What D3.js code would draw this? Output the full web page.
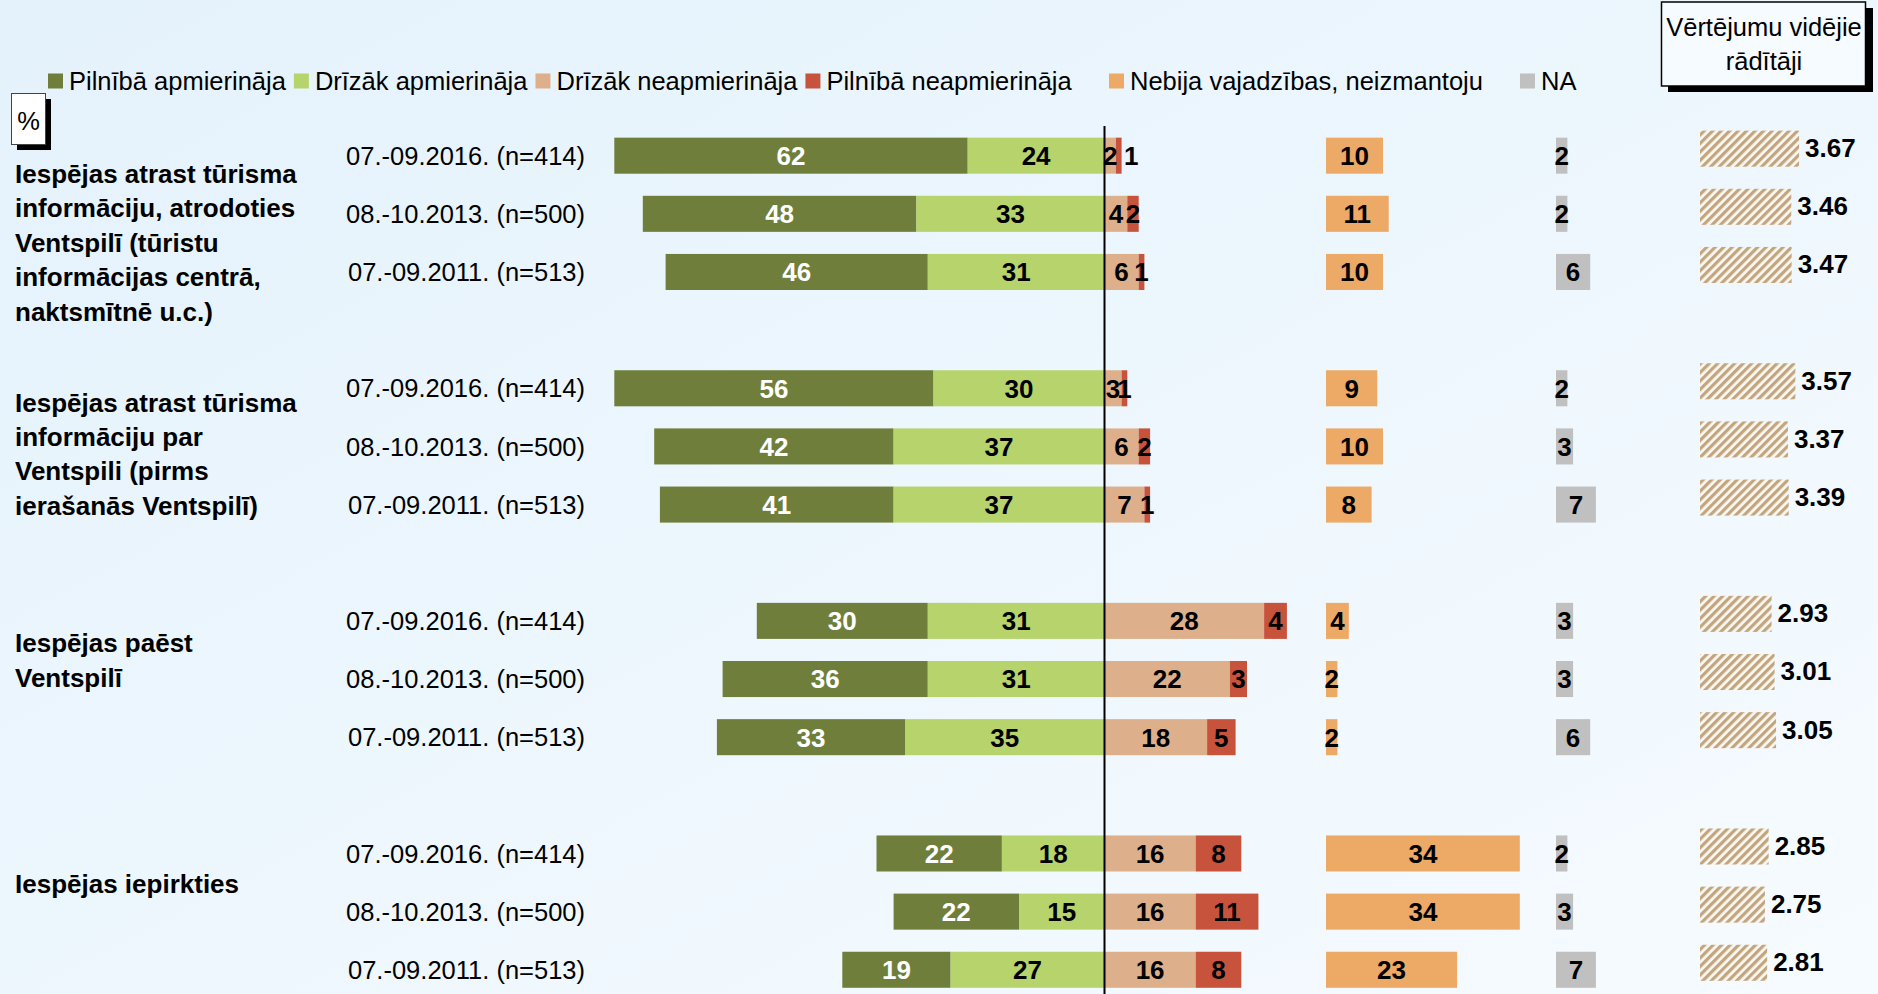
<!DOCTYPE html>
<html>
<head>
<meta charset="utf-8">
<title>Vērtējumu vidējie rādītāji</title>
<script src="https://d3js.org/d3.v7.min.js"></script>
<style>
  body { margin: 0; }
  text { font-family: Arial, "Liberation Sans", sans-serif; }
</style>
</head>
<body>
<div id="chart"></div>
<script>

// categories (one label per group, split in lines as on the slide)
const categories = [
  ["Iespējas atrast tūrisma", "informāciju, atrodoties", "Ventspilī (tūristu", "informācijas centrā,", "naktsmītnē u.c.)"],
  ["Iespējas atrast tūrisma", "informāciju par", "Ventspili (pirms", "ierašanās Ventspilī)"],
  ["Iespējas paēst", "Ventspilī"],
  ["Iespējas iepirkties"]
];
const waves = ["07.-09.2016. (n=414)", "08.-10.2013. (n=500)", "07.-09.2011. (n=513)"];

// values, 3 waves per category
const fullySatisfied     = [62, 48, 46, 56, 42, 41, 30, 36, 33, 22, 22, 19];
const ratherSatisfied    = [24, 33, 31, 30, 37, 37, 31, 31, 35, 18, 15, 27];
const ratherDissatisfied = [ 2,  4,  6,  3,  6,  7, 28, 22, 18, 16, 16, 16];
const fullyDissatisfied  = [ 1,  2,  1,  1,  2,  1,  4,  3,  5,  8, 11,  8];
const notUsed            = [10, 11, 10,  9, 10,  8,  4,  2,  2, 34, 34, 23];
const noAnswer           = [ 2,  2,  6,  2,  3,  7,  3,  3,  6,  2,  3,  7];
const meanScores = [3.67, 3.46, 3.47, 3.57, 3.37, 3.39, 2.93, 3.01, 3.05, 2.85, 2.75, 2.81];

const legendLabels = ["Pilnībā apmierināja", "Drīzāk apmierināja", "Drīzāk neapmierināja",
  "Pilnībā neapmierināja", "Nebija vajadzības, neizmantoju", "NA"];
const colours = ["#6f7f3b", "#b7d36b", "#ddb08b", "#c8533d", "#eda966", "#c0c0c0"];

const W = 1878, H = 994;
const fontSize = 25.5, boldSize = 26;

const svg = d3.select("#chart")
  .append("svg")
    .attr("width", W)
    .attr("height", H);

// background gradient + hatch for the mean bars
const defs = svg.append("defs");
const grad = defs.append("linearGradient")
    .attr("id", "bg").attr("x1", 0).attr("y1", 0).attr("x2", 1).attr("y2", 1);
grad.append("stop").attr("offset", "0%").attr("stop-color", "#e4f2fc");
grad.append("stop").attr("offset", "100%").attr("stop-color", "#f6fbff");

const hatch = defs.append("pattern")
    .attr("id", "hatch")
    .attr("patternUnits", "userSpaceOnUse")
    .attr("width", 6).attr("height", 6)
    .attr("patternTransform", "rotate(45)");
hatch.append("rect").attr("width", 6).attr("height", 6).attr("fill", "#fbf7f1");
hatch.append("rect").attr("width", 3.2).attr("height", 6).attr("fill", "#c2a67f");

svg.append("rect").attr("width", W).attr("height", H).attr("fill", "url(#bg)");

// rows: 4 slots per category, last slot empty
const rows = fullySatisfied.map(function(d, i) {
  return {
    g: Math.floor(i / 3), w: i % 3, slot: Math.floor(i / 3) * 4 + i % 3,
    a: fullySatisfied[i], b: ratherSatisfied[i], c: ratherDissatisfied[i], d: fullyDissatisfied[i],
    nu: notUsed[i], na: noAnswer[i], mean: meanScores[i]
  };
});

const y = d3.scaleBand()
  .domain(d3.range(15))
  .range([126.6, 126.6 + 15 * 58.15])
  .paddingInner(0.38)
  .paddingOuter(0.19);
const bh = y.bandwidth();

const zero = 1104.5, unit = 5.7;
const x = d3.scaleLinear().domain([-100, 100]).range([zero - 100 * unit, zero + 100 * unit]);
const xNotUsed = d3.scaleLinear().domain([0, 100]).range([1326, 1326 + 100 * unit]);
const xNa = d3.scaleLinear().domain([0, 100]).range([1556, 1556 + 100 * unit]);
const xMean = d3.scaleLinear().domain([1, 5]).range([1700, 1700 + 4 * 37.1]);

// segments
function segs(r) {
  return [
    {x0: x(-(r.a + r.b)), x1: x(-r.b), v: r.a, c: 0, r: r},
    {x0: x(-r.b), x1: x(0), v: r.b, c: 1, r: r},
    {x0: x(0), x1: x(r.c), v: r.c, c: 2, r: r},
    {x0: x(r.c), x1: x(r.c + r.d), v: r.d, c: 3, r: r},
    {x0: xNotUsed(0), x1: xNotUsed(r.nu), v: r.nu, c: 4, r: r},
    {x0: xNa(0), x1: xNa(r.na), v: r.na, c: 5, r: r}
  ];
}
const allSegs = rows.flatMap(segs);

svg.selectAll("rect.seg")
  .data(allSegs)
  .enter()
  .append("rect")
    .attr("class", "seg")
    .attr("x", function(d) { return d.x0; })
    .attr("width", function(d) { return d.x1 - d.x0; })
    .attr("y", function(d) { return y(d.r.slot); })
    .attr("height", bh)
    .attr("fill", function(d) { return colours[d.c]; });

// value labels (tiny red segment next to a tiny tan one gets pushed right)
svg.selectAll("text.val")
  .data(allSegs)
  .enter()
  .append("text")
    .attr("class", "val")
    .attr("x", function(d) {
      let cx = (d.x0 + d.x1) / 2;
      if (d.c === 3) {
        const tanCx = (x(0) + x(d.r.c)) / 2;
        if (cx - tanCx < 10) cx = tanCx + 21;
      }
      return cx;
    })
    .attr("y", function(d) { return y(d.r.slot) + bh / 2; })
    .attr("dy", "0.36em")
    .attr("text-anchor", "middle")
    .style("font-size", boldSize + "px")
    .style("font-weight", "bold")
    .attr("fill", function(d) { return d.c === 0 ? "#fff" : "#000"; })
    .text(function(d) { return d.v; });

// mean scores (hatched, slightly raised)
svg.selectAll("rect.mean")
  .data(rows)
  .enter()
  .append("rect")
    .attr("class", "mean")
    .attr("x", xMean(1))
    .attr("width", function(d) { return xMean(d.mean) - xMean(1); })
    .attr("y", function(d) { return y(d.slot) - 7; })
    .attr("height", bh)
    .attr("fill", "url(#hatch)");

svg.selectAll("text.mean")
  .data(rows)
  .enter()
  .append("text")
    .attr("class", "mean")
    .attr("x", function(d) { return xMean(d.mean) + 6; })
    .attr("y", function(d) { return y(d.slot) - 8 + bh / 2; })
    .attr("dy", "0.36em")
    .style("font-size", boldSize + "px")
    .style("font-weight", "bold")
    .text(function(d) { return d3.format(".2f")(d.mean); });

// wave labels
svg.selectAll("text.wave")
  .data(rows)
  .enter()
  .append("text")
    .attr("class", "wave")
    .attr("x", 585)
    .attr("y", function(d) { return y(d.slot) + bh / 2; })
    .attr("dy", "0.36em")
    .attr("text-anchor", "end")
    .style("font-size", fontSize + "px")
    .text(function(d) { return waves[d.w]; });

// category labels
const labelShift = [18, 14, 22, 30];
categories.forEach(function(lines, g) {
  const t = svg.append("text")
    .attr("x", 15)
    .attr("y", y(g * 4) + bh / 2 + labelShift[g])
    .style("font-size", boldSize + "px")
    .style("font-weight", "bold");
  lines.forEach(function(l, i) {
    t.append("tspan").attr("x", 15).attr("dy", i === 0 ? "0.36em" : 34.4).text(l);
  });
});

// zero line
svg.append("line")
  .attr("x1", x(0)).attr("x2", x(0))
  .attr("y1", 126).attr("y2", H)
  .attr("stroke", "#000").attr("stroke-width", 2);

// legend: first four packed one after another, the last two further right
const legend = svg.selectAll("g.legend")
  .data(legendLabels)
  .enter()
  .append("g")
    .attr("class", "legend");
legend.append("rect")
  .attr("y", -7.5)
  .attr("width", 15).attr("height", 15)
  .attr("fill", function(d, i) { return colours[i]; });
legend.append("text")
  .attr("x", 21).attr("dy", "0.36em")
  .style("font-size", fontSize + "px")
  .text(function(d) { return d; });
let lx = 48;
legend.each(function(d, i) {
  if (i === 4) lx = 1109;
  if (i === 5) lx = 1520;
  d3.select(this).attr("transform", "translate(" + lx + ",81)");
  lx += 21 + d3.select(this).select("text").node().getComputedTextLength() + 8;
});

// "%" box
svg.append("rect").attr("x", 17).attr("y", 99).attr("width", 34).attr("height", 51).attr("fill", "#000");
svg.append("rect").attr("x", 11.5).attr("y", 93.5).attr("width", 34).attr("height", 51)
  .attr("fill", "#fff").attr("stroke", "#444").attr("stroke-width", 1);
svg.append("text").attr("x", 28.5).attr("y", 121).attr("dy", "0.36em")
  .attr("text-anchor", "middle").style("font-size", fontSize + "px").text("%");

// title box of the mean column
svg.append("rect").attr("x", 1668).attr("y", 8).attr("width", 205).attr("height", 84).attr("fill", "#000");
svg.append("rect").attr("x", 1661.5).attr("y", 2).attr("width", 204).attr("height", 84)
  .attr("fill", "#f6fbff").attr("stroke", "#000").attr("stroke-width", 1.5);
svg.append("text").attr("x", 1764).attr("y", 27).attr("dy", "0.36em")
  .attr("text-anchor", "middle").style("font-size", fontSize + "px").text("Vērtējumu vidējie");
svg.append("text").attr("x", 1764).attr("y", 61).attr("dy", "0.36em")
  .attr("text-anchor", "middle").style("font-size", fontSize + "px").text("rādītāji");

</script>
</body>
</html>
